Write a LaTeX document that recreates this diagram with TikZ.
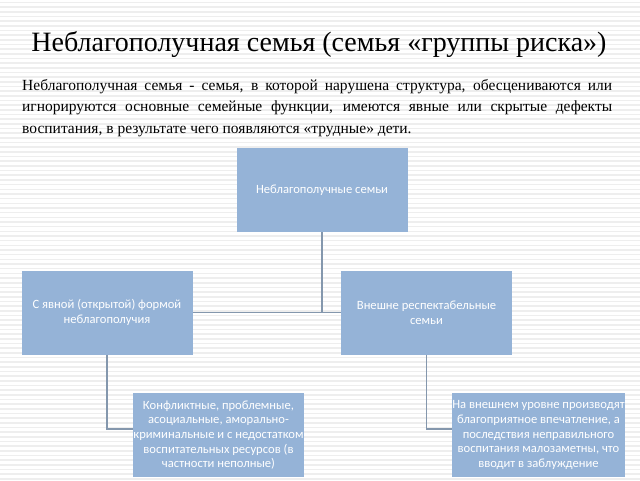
\documentclass[tikz,border=0pt]{standalone}
\usepackage{fontspec}
\setmainfont{Liberation Serif}
\newfontfamily\boxfont{Carlito}
\usepackage{tikz}

\definecolor{boxblue}{HTML}{95B3D7}
\definecolor{linegrey}{HTML}{8497AD}
\definecolor{stripe}{HTML}{EEEEEE}

\tikzset{
  famblock/.style={fill=boxblue, minimum width=171pt, minimum height=84pt,
    align=center, text=white, inner sep=0pt,
    font=\boxfont\fontsize{12.6}{14.6}\selectfont},
  treeline/.style={draw=linegrey, line width=1.4pt}
}

\begin{document}
\begin{tikzpicture}[x=1pt, y=-1pt]
\useasboundingbox (0,0) rectangle (640,480);
\fill[white] (0,0) rectangle (640,480);
% striped background
\foreach \i in {0,...,102}
{
	\draw[stripe, line width=1.6pt] (0,2.5+4.67*\i) -- (640,2.5+4.67*\i);
}
\node[anchor=base, font=\fontsize{28}{33}\selectfont](title) at (319,51)
  {Неблагополучная семья (семья «группы риска»)};
\node[anchor=north west, text width=590pt, align=justify, inner sep=0pt,
  font=\fontsize{15.5}{21.5}\selectfont](intro) at (22,79)
  {Неблагополучная семья - семья, в которой нарушена структура, обесцениваются или
   игнорируются основные семейные функции, имеются явные или скрытые дефекты
   воспитания, в результате чего появляются «трудные» дети.};

\node[famblock](root) at (322,190) {Неблагополучные семьи};
\node[famblock](open) at (107,312.5) {С явной (открытой) формой\\ неблагополучия};
\node[famblock](outer) at (426.5,312.5) {Внешне респектабельные\\ семьи};
\node[famblock](crisis) at (218.5,435) {Конфликтные, проблемные,\\ асоциальные, аморально-\\ криминальные и с недостатком\\ воспитательных ресурсов (в\\ частности неполные)};
\node[famblock](hidden) at (538.5,435) {На внешнем уровне производят\\ благоприятное впечатление, а\\ последствия неправильного\\ воспитания малозаметны, что\\ вводит в заблуждение};

\draw[treeline] (root.south) -- (root.south |- open.east);
\draw[treeline] (open.east) -- (outer.west);
\draw[treeline] (open.south) |- ([yshift=6pt]crisis.west);
\draw[treeline] (outer.south) |- ([yshift=6pt]hidden.west);
\end{tikzpicture}
\end{document}
